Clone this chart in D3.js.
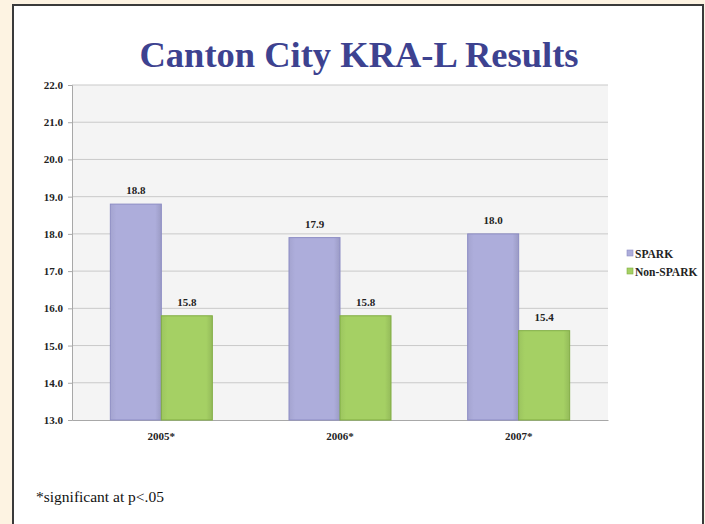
<!DOCTYPE html>
<html>
<head>
<meta charset="utf-8">
<script src="https://cdn.jsdelivr.net/npm/d3@7"></script>
<style>
  body { margin: 0; background: #fdf3e2; }
  svg { display: block; }
</style>
</head>
<body>
<div id="chart"></div>
<script>
// data
var years = ["2005*", "2006*", "2007*"],
  series = ["SPARK", "Non-SPARK"],
  spark = [18.8, 17.9, 18.0],
  nonSpark = [15.8, 15.8, 15.4],
  yTicks = [13, 14, 15, 16, 17, 18, 19, 20, 21, 22];

var colors = { "SPARK": "#adaddb", "Non-SPARK": "#a5d064" },
  edges = { "SPARK": "#8c8cc4", "Non-SPARK": "#80ad42" };

var rows = years.map(function(y, i) {
  return { year: y, values: [spark[i], nonSpark[i]] };
});

// placement
var W = 705, H = 524,
  pLeft = 72, pRight = 608, pTop = 85, pBottom = 420,
  small = 11;

var svg = d3.select("#chart").append("svg")
  .attr("width", W)
  .attr("height", H);

// white card with dark frame
svg.append("rect")
  .attr("x", 13).attr("y", 5)
  .attr("width", 690).attr("height", H)
  .attr("fill", "#ffffff")
  .attr("stroke", "#3a3a3a")
  .attr("stroke-width", 2);

svg.append("text")
  .attr("x", 359).attr("y", 67)
  .attr("text-anchor", "middle")
  .attr("font-family", "Liberation Serif, serif")
  .attr("font-weight", "bold")
  .attr("font-size", 36.5)
  .attr("fill", "#3d4290")
  .text("Canton City KRA-L Results");

var x0 = d3.scaleBand().domain(years).range([pLeft, pRight]);
var x1 = d3.scaleBand().domain(series).range([-51, 51]);
var y = d3.scaleLinear().domain([13, 22]).range([pBottom, pTop]);

// plot background
svg.append("rect")
  .attr("x", pLeft).attr("y", pTop)
  .attr("width", pRight - pLeft).attr("height", pBottom - pTop)
  .attr("fill", "#f4f4f4");

// gridlines
svg.append("g").selectAll("line")
  .data(yTicks.slice(1))
  .enter().append("line")
  .attr("x1", pLeft).attr("x2", pRight)
  .attr("y1", function(d) { return y(d); })
  .attr("y2", function(d) { return y(d); })
  .attr("stroke", "#c9c9c9")
  .attr("stroke-width", 1);

// y axis
var yAxis = d3.axisLeft(y)
  .tickValues(yTicks)
  .tickFormat(d3.format(".1f"))
  .tickSize(4)
  .tickPadding(5);

var gy = svg.append("g")
  .attr("transform", "translate(" + pLeft + ",0)")
  .call(yAxis);
gy.select(".domain").attr("stroke", "#a8a8a8");
gy.selectAll(".tick line").attr("stroke", "#a8a8a8");
gy.selectAll(".tick text")
  .attr("font-family", "Liberation Serif, serif")
  .attr("font-weight", "bold")
  .attr("font-size", small)
  .attr("fill", "#222");

// x axis
var xAxis = d3.axisBottom(x0).tickSize(0).tickPadding(12);
var gx = svg.append("g")
  .attr("transform", "translate(0," + pBottom + ")")
  .call(xAxis);
gx.select(".domain").attr("stroke", "#a8a8a8");
gx.selectAll(".tick text")
  .attr("font-family", "Liberation Serif, serif")
  .attr("font-weight", "bold")
  .attr("font-size", small)
  .attr("fill", "#222");

// gradients for the slight bevel
var defs = svg.append("defs");
series.forEach(function(s, i) {
  var g = defs.append("linearGradient")
    .attr("id", "grad" + i)
    .attr("x1", "0").attr("x2", "1").attr("y1", "0").attr("y2", "0");
  g.append("stop").attr("offset", "0%").attr("stop-color", d3.color(colors[s]).darker(0.15));
  g.append("stop").attr("offset", "12%").attr("stop-color", colors[s]);
  g.append("stop").attr("offset", "88%").attr("stop-color", colors[s]);
  g.append("stop").attr("offset", "100%").attr("stop-color", d3.color(colors[s]).darker(0.3));
});

// bars
var groups = svg.append("g").selectAll("g")
  .data(rows)
  .enter().append("g")
  .attr("transform", function(d) { return "translate(" + (x0(d.year) + x0.bandwidth() / 2) + ",0)"; });

groups.selectAll("rect")
  .data(function(d) { return d.values.map(function(v, i) { return { s: series[i], i: i, v: v }; }); })
  .enter().append("rect")
  .attr("x", function(d) { return x1(d.s); })
  .attr("width", x1.bandwidth())
  .attr("y", function(d) { return y(d.v); })
  .attr("height", function(d) { return pBottom - y(d.v); })
  .attr("fill", function(d) { return "url(#grad" + d.i + ")"; })
  .attr("stroke", function(d) { return edges[d.s]; })
  .attr("stroke-width", 1);

groups.selectAll("text")
  .data(function(d) { return d.values.map(function(v, i) { return { s: series[i], v: v }; }); })
  .enter().append("text")
  .attr("x", function(d) { return x1(d.s) + x1.bandwidth() / 2; })
  .attr("y", function(d) { return y(d.v) - 10; })
  .attr("text-anchor", "middle")
  .attr("font-family", "Liberation Serif, serif")
  .attr("font-weight", "bold")
  .attr("font-size", small)
  .attr("fill", "#222")
  .text(function(d) { return d3.format(".1f")(d.v); });

// legend
var legend = svg.append("g").selectAll("g")
  .data(series)
  .enter().append("g")
  .attr("transform", function(d, i) { return "translate(627," + (250 + i * 18) + ")"; });

legend.append("rect")
  .attr("width", 6).attr("height", 6)
  .attr("fill", function(d) { return colors[d]; })
  .attr("stroke", function(d) { return edges[d]; })
  .attr("stroke-width", 0.6);

legend.append("text")
  .attr("x", 8).attr("y", 7.5)
  .attr("font-family", "Liberation Serif, serif")
  .attr("font-weight", "bold")
  .attr("font-size", 11.5)
  .attr("fill", "#222")
  .text(function(d) { return d; });

// footnote
svg.append("text")
  .attr("x", 36).attr("y", 502)
  .attr("font-family", "Liberation Serif, serif")
  .attr("font-size", 15.5)
  .attr("fill", "#111")
  .text("*significant at p<.05");
</script>
</body>
</html>
